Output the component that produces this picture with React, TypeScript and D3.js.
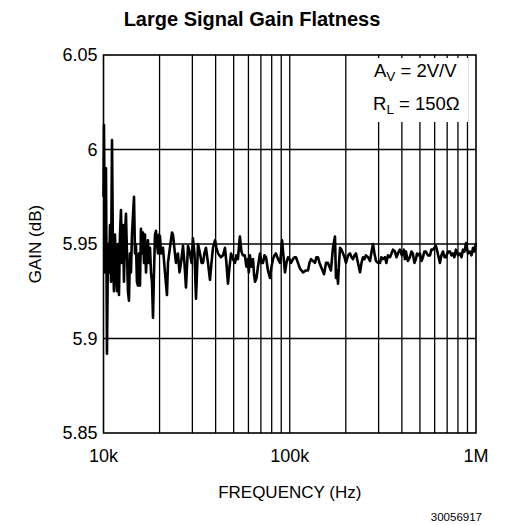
import React, { useEffect, useRef } from "react";
import * as d3 from "d3";

// frequency in kHz, gain in dB
const freqKHz = [
  10.0, 10.06, 10.19, 10.31, 10.44, 10.57, 10.7, 10.84, 10.97, 11.11, 11.25, 11.38, 11.52, 11.67, 11.82,
  11.96, 12.11, 12.26, 12.41, 12.57, 12.72, 12.88, 13.04, 13.2, 13.37, 13.53, 13.7, 13.87, 14.04, 14.22,
  14.4, 14.58, 14.76, 14.94, 15.12, 15.31, 15.5, 15.7, 15.89, 16.09, 16.29, 16.5, 16.7, 16.91, 17.12,
  17.33, 17.54, 17.77, 17.99, 18.21, 18.44, 18.67, 18.9, 19.14, 19.38, 19.62, 19.86, 20.11, 20.36, 20.86,
  21.38, 21.92, 22.19, 22.74, 23.31, 23.6, 24.19, 24.5, 25.1, 25.6, 26.07, 26.72, 27.2, 27.72, 28.43,
  29.14, 29.7, 30.23, 30.8, 31.38, 32.17, 32.97, 33.6, 34.21, 34.8, 35.49, 36.39, 37.3, 38.0, 38.7,
  39.7, 40.4, 41.2, 42.7, 43.8, 44.9, 45.7, 46.6, 47.5, 48.4, 49.6, 50.8, 51.7, 52.7, 53.3,
  54.0, 55.0, 56.0, 57.4, 58.5, 59.6, 60.3, 61.1, 62.3, 63.5, 64.3, 65.1, 66.3, 67.5, 69.2,
  70.5, 71.8, 73.2, 74.6, 76.4, 78.3, 79.8, 81.3, 82.8, 84.3, 86.5, 88.7, 90.0, 90.9, 92.5,
  94.3, 96.0, 97.9, 99.7, 101.6, 104.1, 106, 108.0, 110.7, 113.5, 115.6, 117.8, 122.2, 125.3, 127.6,
  130.0, 133.3, 136.6, 139, 141.8, 144.5, 147.2, 150, 152.8, 156.6, 160.4, 163.4, 166.4, 168.5, 170.6,
  174.9, 177.1, 179.3, 181.6, 183.9, 186.2, 189.7, 193.2, 196.7, 200.4, 205.6, 210.7, 214.7, 218.7, 222.7,
  226.8, 232.5, 238.4, 242.8, 247.3, 251.9, 256.6, 263, 269.8, 275, 279.9, 285, 290.4, 297.6, 305.3,
  310, 316.7, 324.6, 330, 336.8, 345.3, 352, 358.2, 367.2, 374, 381, 390.2, 400, 410, 415,
  420.4, 430.8, 441.6, 450, 458, 467, 476, 482, 488, 500, 510, 519, 528, 538, 552,
  566, 576, 587, 598, 609, 620, 640, 652, 665, 678, 690, 708, 725, 738, 752,
  765, 780, 800, 820, 836, 851, 868, 884, 906, 929, 946, 964, 980, 1000,
];

const gainDb = [
  5.975, 6.013, 5.935, 5.99, 5.892, 5.95, 5.935, 5.96, 5.93, 6.005, 5.94, 5.925, 5.955, 5.935, 5.925,
  5.95, 5.923, 5.955, 5.968, 5.94, 5.96, 5.93, 5.955, 5.966, 5.945, 5.925, 5.92, 5.945, 5.935, 5.955,
  5.965, 5.975, 5.945, 5.95, 5.93, 5.928, 5.945, 5.928, 5.958, 5.945, 5.956, 5.94, 5.955, 5.935, 5.945,
  5.952, 5.94, 5.948, 5.935, 5.93, 5.911, 5.935, 5.955, 5.957, 5.95, 5.945, 5.955, 5.954, 5.945, 5.948,
  5.935, 5.923, 5.94, 5.948, 5.956, 5.955, 5.945, 5.94, 5.945, 5.935, 5.94, 5.949, 5.94, 5.927, 5.949,
  5.945, 5.94, 5.953, 5.945, 5.921, 5.95, 5.945, 5.94, 5.94, 5.945, 5.948, 5.94, 5.931, 5.94, 5.948,
  5.952, 5.948, 5.945, 5.943, 5.944, 5.948, 5.94, 5.929, 5.938, 5.945, 5.942, 5.94, 5.944, 5.942, 5.948,
  5.954, 5.946, 5.944, 5.944, 5.938, 5.942, 5.935, 5.944, 5.938, 5.942, 5.934, 5.93, 5.932, 5.938, 5.945,
  5.94, 5.94, 5.944, 5.943, 5.936, 5.932, 5.938, 5.942, 5.944, 5.945, 5.942, 5.94, 5.946, 5.952, 5.944,
  5.935, 5.94, 5.943, 5.942, 5.94, 5.942, 5.943, 5.943, 5.94, 5.937, 5.936, 5.935, 5.936, 5.936, 5.94,
  5.942, 5.941, 5.94, 5.943, 5.943, 5.94, 5.938, 5.936, 5.934, 5.94, 5.94, 5.938, 5.936, 5.942, 5.948,
  5.954, 5.932, 5.936, 5.929, 5.94, 5.948, 5.947, 5.945, 5.943, 5.94, 5.944, 5.945, 5.943, 5.942, 5.944,
  5.945, 5.94, 5.935, 5.94, 5.943, 5.942, 5.944, 5.943, 5.941, 5.946, 5.95, 5.945, 5.941, 5.94, 5.94,
  5.943, 5.942, 5.943, 5.94, 5.944, 5.943, 5.945, 5.947, 5.946, 5.943, 5.945, 5.947, 5.944, 5.947, 5.942,
  5.946, 5.941, 5.943, 5.946, 5.945, 5.94, 5.942, 5.945, 5.944, 5.945, 5.941, 5.943, 5.946, 5.946, 5.944,
  5.944, 5.947, 5.947, 5.948, 5.949, 5.946, 5.94, 5.944, 5.946, 5.943, 5.943, 5.946, 5.946, 5.944, 5.945,
  5.943, 5.947, 5.944, 5.945, 5.943, 5.947, 5.946, 5.9505, 5.945, 5.946, 5.944, 5.948, 5.946, 5.9505,
];

const yTicks = [5.85, 5.9, 5.95, 6, 6.05];
const yTickLabels = ["5.85", "5.9", "5.95", "6", "6.05"];
const xMajor = [10, 100, 1000];
const xMajorLabels = ["10k", "100k", "1M"];

const font = "'Liberation Sans', Arial, Helvetica, sans-serif";

const App = () => {
  const svgRef = useRef<SVGSVGElement>(null);
  const width = 508;
  const height = 525;
  const margin = { top: 55, right: 32, bottom: 92, left: 103.5 };

  useEffect(() => {
    const svg = d3.select(svgRef.current);
    svg.selectAll("*").remove();

    const x = d3
      .scaleLog()
      .domain([10, 1000])
      .range([margin.left, width - margin.right]);
    const y = d3
      .scaleLinear()
      .domain([5.85, 6.05])
      .range([height - margin.bottom, margin.top]);

    const top = y(6.05);
    const bottom = y(5.85);

    // white background
    svg.append("rect").attr("width", width).attr("height", height).attr("fill", "#fff");

    // vertical grid (minor lines in each decade)
    const minor: number[] = [];
    [10, 100].forEach((dec) => {
      for (let k = 2; k <= 9; k++) minor.push(dec * k);
    });
    minor.push(100);
    svg
      .append("g")
      .selectAll("line")
      .data(minor)
      .enter()
      .append("line")
      .attr("x1", (d) => x(d))
      .attr("x2", (d) => x(d))
      .attr("y1", top)
      .attr("y2", bottom)
      .attr("stroke", "#000")
      .attr("stroke-width", 1.3);

    // horizontal grid
    svg
      .append("g")
      .selectAll("line")
      .data(yTicks.slice(1, -1))
      .enter()
      .append("line")
      .attr("x1", x(10))
      .attr("x2", x(1000))
      .attr("y1", (d) => y(d))
      .attr("y2", (d) => y(d))
      .attr("stroke", "#000")
      .attr("stroke-width", 1.3);

    // curve
    const pts = freqKHz.map((f, i) => [f, gainDb[i]] as [number, number]);
    svg
      .append("path")
      .datum(pts)
      .attr("fill", "none")
      .attr("stroke", "#000")
      .attr("stroke-width", 2.6)
      .attr("stroke-linejoin", "round")
      .attr("d", d3.line<[number, number]>().x((d) => x(d[0])).y((d) => y(d[1])));

    // label box over the grid
    svg
      .append("rect")
      .attr("x", 371)
      .attr("y", top + 3)
      .attr("width", 97)
      .attr("height", 64)
      .attr("fill", "#fff");

    const ann = svg
      .append("g")
      .attr("font-family", font)
      .attr("font-size", 18.5)
      .attr("fill", "#000");
    const a1 = ann.append("text").attr("x", 374).attr("y", 77);
    a1.append("tspan").text("A");
    a1.append("tspan").attr("font-size", 13.5).attr("dy", 4).text("V");
    a1.append("tspan").attr("dy", -4).text(" = 2V/V");
    const a2 = ann.append("text").attr("x", 373).attr("y", 110);
    a2.append("tspan").text("R");
    a2.append("tspan").attr("font-size", 13.5).attr("dy", 4).text("L");
    a2.append("tspan").attr("dy", -4).text(" = 150Ω");

    // frame
    svg
      .append("rect")
      .attr("x", x(10))
      .attr("y", top)
      .attr("width", x(1000) - x(10))
      .attr("height", bottom - top)
      .attr("fill", "none")
      .attr("stroke", "#000")
      .attr("stroke-width", 1.6);

    // y tick labels
    svg
      .append("g")
      .selectAll("text")
      .data(yTicks)
      .enter()
      .append("text")
      .attr("x", x(10) - 6)
      .attr("y", (d) => y(d))
      .attr("dy", "0.35em")
      .attr("text-anchor", "end")
      .attr("font-family", font)
      .attr("font-size", 18)
      .text((d, i) => yTickLabels[i]);

    // x tick labels
    svg
      .append("g")
      .selectAll("text")
      .data(xMajor)
      .enter()
      .append("text")
      .attr("x", (d) => x(d))
      .attr("y", bottom + 29)
      .attr("text-anchor", "middle")
      .attr("font-family", font)
      .attr("font-size", 18)
      .text((d, i) => xMajorLabels[i]);

    // titles
    svg
      .append("text")
      .attr("x", 252)
      .attr("y", 26)
      .attr("text-anchor", "middle")
      .attr("font-family", font)
      .attr("font-size", 20)
      .attr("font-weight", "bold")
      .text("Large Signal Gain Flatness");

    svg
      .append("text")
      .attr("x", (x(10) + x(1000)) / 2)
      .attr("y", 498)
      .attr("text-anchor", "middle")
      .attr("font-family", font)
      .attr("font-size", 17)
      .text("FREQUENCY (Hz)");

    svg
      .append("text")
      .attr("transform", `translate(41,${(top + bottom) / 2}) rotate(-90)`)
      .attr("text-anchor", "middle")
      .attr("font-family", font)
      .attr("font-size", 17)
      .text("GAIN (dB)");

    svg
      .append("text")
      .attr("x", 482)
      .attr("y", 521)
      .attr("text-anchor", "end")
      .attr("font-family", font)
      .attr("font-size", 11.5)
      .text("30056917");
  }, []);

  return (
    <svg
      ref={svgRef}
      width={width}
      height={height}
      style={{ position: "absolute", left: 0, top: 0 }}
    ></svg>
  );
};

export default App;
